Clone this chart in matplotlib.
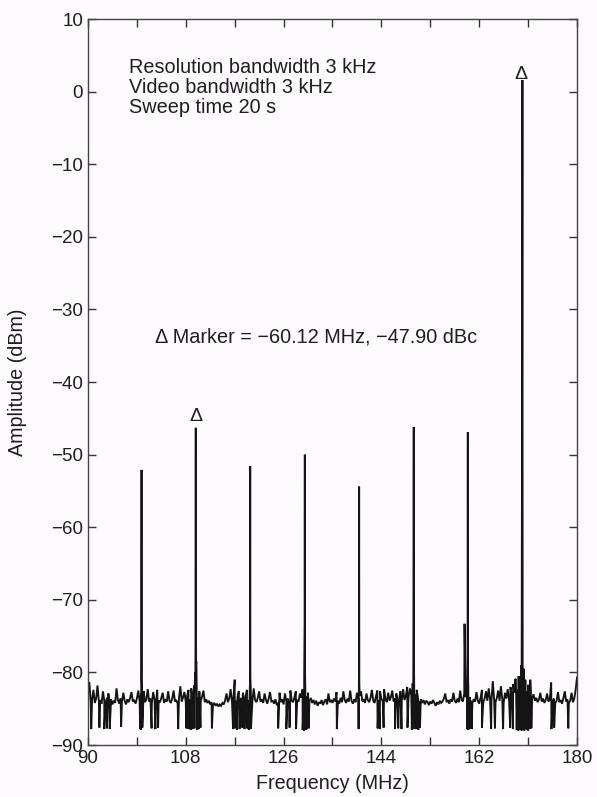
import numpy as np
import matplotlib
matplotlib.use("Agg")
import matplotlib.pyplot as plt
from matplotlib.ticker import FixedLocator, FixedFormatter

plt.rcParams['font.family'] = ['Liberation Sans', 'DejaVu Sans']

# ---------------- data ----------------
# noise floor sampled every 0.25 MHz from 90 to 180 MHz (dBm)
noise_start = 90.0
noise_step = 0.25
noise_level = [
    -83.0, -81.3, -84.1, -83.7, -82.4, -84.2, -83.6, -81.8, -84.0, -83.8, -84.3, -82.6, -83.9, -84.2, -83.5, -82.9, -84.1, -83.7, -84.4, -83.9,
    -84.2, -82.2, -83.8, -84.3, -83.6, -84.0, -82.8, -83.9, -84.4, -83.7, -84.1, -83.5, -82.7, -84.0, -83.8, -84.3, -83.6, -82.5, -83.9, -82.9,
    -83.4, -82.6, -84.1, -83.7, -82.3, -84.0, -83.6, -84.2, -82.7, -83.8, -84.3, -82.4, -83.9, -84.1, -83.5, -82.8, -84.2, -83.7, -84.0, -82.6,
    -83.9, -84.2, -83.6, -82.5, -84.0, -83.8, -84.3, -83.5, -81.9, -84.0, -83.4, -82.7, -84.1, -83.2, -82.4, -83.7, -82.2, -83.4, -81.8, -82.5,
    -82.1, -83.5, -82.6, -84.0, -83.3, -82.5, -84.1, -83.7, -84.2, -83.9, -84.4, -84.1, -84.5, -84.2, -84.6, -84.3, -84.7, -84.4, -84.6, -84.2,
    -84.4, -83.8, -82.9, -84.1, -83.6, -82.3, -84.0, -83.7, -81.0, -83.9, -83.4, -82.6, -84.0, -83.5, -82.8, -83.9, -83.3, -82.4, -83.8, -82.9,
    -83.6, -84.0, -82.2, -83.8, -84.1, -83.5, -82.6, -84.0, -83.7, -84.2, -82.9, -83.8, -84.3, -83.6, -82.7, -84.0, -83.9, -84.3, -83.7, -84.5,
    -84.2, -82.8, -84.1, -83.7, -84.4, -82.9, -84.0, -83.6, -84.3, -82.5, -83.9, -84.1, -83.4, -82.6, -83.8, -84.0, -82.9, -83.5, -82.3, -82.8,
    -82.4, -83.3, -82.8, -84.0, -83.5, -84.2, -83.8, -84.4, -83.9, -84.6, -84.1, -84.3, -83.8, -84.5, -84.0, -83.7, -84.4, -82.9, -84.1, -83.8,
    -84.2, -83.6, -84.0, -82.7, -83.9, -84.3, -83.5, -84.1, -82.6, -83.8, -84.2, -83.6, -84.0, -82.5, -83.9, -84.3, -83.7, -84.1, -82.8, -83.6,
    -83.2, -82.6, -84.0, -83.7, -84.2, -82.9, -83.8, -84.1, -83.5, -82.4, -83.9, -84.2, -83.3, -82.5, -83.8, -82.6, -83.6, -84.0, -82.3, -83.7,
    -84.1, -82.8, -83.9, -83.4, -82.5, -84.0, -83.6, -82.9, -84.1, -83.7, -82.6, -83.9, -82.3, -83.8, -83.2, -82.0, -83.4, -82.2, -83.1, -81.5,
    -82.0, -83.0, -82.4, -83.6, -84.0, -83.7, -84.2, -83.8, -84.4, -83.9, -84.1, -84.5, -84.0, -84.3, -83.8, -84.2, -84.6, -84.1, -84.4, -83.9,
    -84.2, -84.0, -83.6, -82.9, -84.1, -83.8, -84.3, -83.7, -84.0, -82.8, -83.9, -84.2, -83.6, -84.1, -82.5, -83.8, -84.0, -82.9, -83.4, -82.6,
    -82.2, -83.4, -83.9, -84.2, -83.7, -84.0, -82.7, -83.9, -84.3, -83.5, -82.4, -84.1, -83.6, -82.6, -83.9, -82.2, -83.7, -84.0, -81.2, -83.8,
    -84.1, -83.5, -82.5, -83.9, -81.9, -83.7, -84.2, -82.8, -83.6, -82.3, -83.8, -82.0, -83.2, -81.6, -82.8, -80.9, -82.4, -80.5, -82.1, -80.0,
    -80.8, -82.2, -81.0, -82.6, -81.7, -83.1, -82.5, -83.6, -83.0, -83.9, -83.5, -84.1, -83.7, -82.8, -84.0, -83.6, -84.2, -83.8, -82.9, -84.0,
    -83.7, -81.4, -84.0, -83.6, -84.2, -83.9, -82.7, -84.1, -83.8, -84.3, -83.5, -82.6, -84.0, -83.7, -84.2, -83.9, -82.8, -84.1, -83.6, -82.4,
    -80.7,
]

# deep downward noise spikes (MHz, dBm)
dip_freq = [90.6, 92.1, 93.0, 93.5, 94.0, 96.1, 99.6, 99.75, 100.0, 101.7, 102.4, 102.9,
            106.6, 108.1, 108.5, 108.9, 109.3, 109.6, 110.1, 110.4, 110.7, 112.8,
            116.7, 117.0, 117.4, 117.9, 118.4, 118.8, 119.3, 119.6, 120.0,
            125.0, 126.5, 127.1, 128.3, 129.5, 129.75, 130.05, 130.3, 130.6, 135.8,
            139.8, 143.3, 143.7, 144.4, 146.5, 147.1, 147.7, 148.8, 149.6, 149.85,
            150.1, 150.4, 150.8, 151.1, 159.75, 160.0, 160.3, 160.6, 162.5, 164.2,
            164.9, 166.4, 167.7, 168.2, 168.9, 169.2, 169.4, 169.6, 169.8, 170.1,
            170.3, 170.5, 170.8, 171.0, 171.3, 171.6, 175.3, 175.8, 178.4]
dip_level = [-87.8, -87.6, -87.8, -87.7, -87.8, -87.5, -87.8, -87.9, -87.6, -87.7, -87.8, -87.6,
             -87.8, -87.7, -87.8, -87.9, -87.8, -87.7, -87.9, -87.8, -87.6, -87.7,
             -87.8, -87.7, -87.9, -87.8, -87.6, -87.8, -87.7, -87.9, -87.8,
             -87.7, -87.8, -87.6, -87.8, -87.9, -88.0, -87.9, -87.8, -87.7, -87.8,
             -87.8, -87.7, -87.8, -87.6, -87.8, -87.7, -87.8, -87.6, -87.9, -87.8,
             -87.7, -87.8, -87.9, -87.6, -87.8, -87.9, -87.7, -87.8, -87.6, -87.8,
             -87.7, -87.8, -87.6, -87.8, -87.9, -88.0, -87.8, -87.9, -88.0, -87.9,
             -88.0, -87.8, -87.9, -88.0, -87.8, -87.7, -87.8, -87.6, -87.7]

# extra upward skirt / spur points (MHz, dBm)
spur_freq = [109.7, 109.95, 129.8, 150.0, 159.3, 169.7, 170.2, 168.6, 171.4]
spur_level = [-80.0, -78.5, -79.5, -79.0, -73.3, -79.0, -79.5, -81.0, -81.0]

# carriers (MHz, dBm) and the levels where each line widens
peak_freq = [99.85, 109.83, 119.85, 129.9, 139.9, 149.95, 159.9, 169.95]
peak_level = [-52.1, -46.3, -51.6, -50.0, -54.4, -46.2, -46.9, 1.6]
shoulder_left = [-80.0, -75.5, -81.5, -73.2, -81.0, -66.3, -74.7, -30.0]
shoulder_right = [-81.0, -79.0, -80.5, -79.5, -81.5, -78.9, -80.0, -79.0]

marker_freq = [109.9, 169.75]
marker_level = [-45.3, 1.8]

settings_lines = ["Resolution bandwidth 3 kHz", "Video bandwidth 3 kHz", "Sweep time 20 s"]
marker_text = "\u0394 Marker = \u221260.12 MHz, \u221247.90 dBc"

x_ticks = [90, 99, 108, 117, 126, 135, 144, 153, 162, 171, 180]
x_ticklabels = ["90", "", "108", "", "126", "", "144", "", "162", "", "180"]
y_ticks = [10, 0, -10, -20, -30, -40, -50, -60, -70, -80, -90]

# ---------------- build trace ----------------
nf = noise_start + noise_step * np.arange(len(noise_level))
pts_f = list(nf) + list(dip_freq) + list(spur_freq)
pts_v = list(noise_level) + list(dip_level) + list(spur_level)
d = 0.035
for f, top, sl, sr in zip(peak_freq, peak_level, shoulder_left, shoulder_right):
    pts_f += [f - d, f - 0.004, f + 0.004, f + d]
    pts_v += [sl, top, top, sr]
order = np.argsort(pts_f, kind="stable")
trace_f = np.array(pts_f)[order]
trace_v = np.array(pts_v)[order]

# ---------------- figure ----------------
txt = "#1e1e1e"
fig = plt.figure(figsize=(5.97, 7.97), dpi=100)
fig.patch.set_facecolor("#fdfbfd")
ax = fig.add_axes([0.1474, 0.0652, 0.8191, 0.9109])
ax.set_facecolor("#fdfbfd")

ax.plot(trace_f, trace_v, color="#141414", lw=1.35, solid_joinstyle="miter")

ax.set_xlim(90, 180)
ax.set_ylim(-90, 10)
ax.xaxis.set_major_locator(FixedLocator(x_ticks))
ax.xaxis.set_major_formatter(FixedFormatter(x_ticklabels))
ax.yaxis.set_major_locator(FixedLocator(y_ticks))
ax.tick_params(direction="in", length=6, width=1.0, top=True, right=True,
               labelsize=13.5, color="#333333", labelcolor=txt, pad=3.5)
for s in ax.spines.values():
    s.set_linewidth(1.0)
    s.set_color("#444444")

ax.set_xlabel("Frequency (MHz)", fontsize=14.2, color=txt)
ax.set_ylabel("Amplitude (dBm)", fontsize=14.2, color=txt)
ax.xaxis.set_label_coords(0.5, -0.040)
ax.yaxis.set_label_coords(-0.125, 0.5)

for i, line in enumerate(settings_lines):
    ax.text(97.5, 2.55 - 2.75 * i, line, fontsize=14.3, color=txt,
            ha="left", va="baseline")
ax.text(102.3, -34.6, marker_text, fontsize=14.3, color=txt,
        ha="left", va="baseline")
for f, v in zip(marker_freq, marker_level):
    ax.text(f, v, "\u0394", fontsize=14, color=txt, ha="center", va="baseline")

fig.savefig("out.png", dpi=100, facecolor=fig.get_facecolor())
